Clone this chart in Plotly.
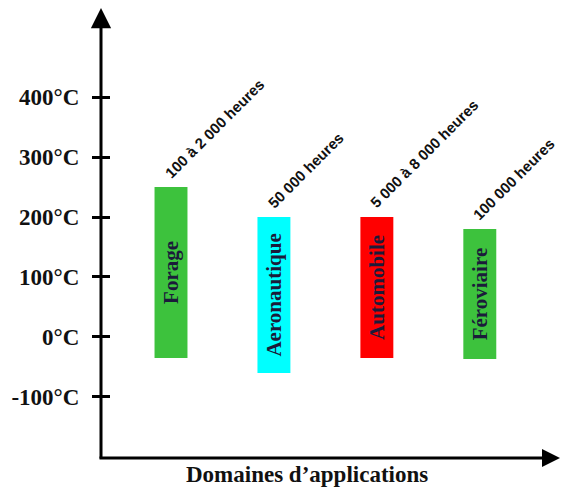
import plotly.graph_objects as go

domains = ["Forage", "Aeronautique", "Automobile", "Féroviaire"]
temp_min = [-35, -60, -35, -37]
temp_max = [250, 200, 200, 180]
durations = ["100 à 2 000 heures", "50 000 heures", "5 000 à 8 000 heures", "100 000 heures"]
colors = ["#3DC23D", "#00FFFF", "#FF0000", "#3DC23D"]
tick_vals = [-100, 0, 100, 200, 300, 400]
tick_text = ["-100°C", "0°C", "100°C", "200°C", "300°C", "400°C"]

xpos = list(range(len(domains)))
bar_w = 0.32

fig = go.Figure()
fig.add_trace(go.Bar(
    x=xpos,
    y=[hi - lo for lo, hi in zip(temp_min, temp_max)],
    base=temp_min,
    width=bar_w,
    marker=dict(color=colors, line=dict(width=0)),
    text=domains,
    textposition="inside",
    insidetextanchor="middle",
    textangle=-90,
    constraintext="none",
    insidetextfont=dict(family="Liberation Serif, Times New Roman, serif", size=21,
                        color="#1b1b3a", weight="bold"),
    showlegend=False,
    hoverinfo="skip",
))
fig.add_trace(go.Scatter(x=[0], y=[0], yaxis="y2", mode="markers",
                         marker=dict(opacity=0), showlegend=False, hoverinfo="skip"))

for i, (d, hi) in enumerate(zip(durations, temp_max)):
    fig.add_annotation(
        x=xpos[i] - bar_w / 2, y=hi, xref="x", yref="y",
        text=d, showarrow=False, textangle=-45,
        xanchor="left", yanchor="bottom", xshift=4, yshift=3,
        font=dict(family="Liberation Sans, Arial, sans-serif", size=15, color="#111111", weight="bold"),
    )

# axis lines with arrowheads
fig.add_annotation(x=0, y=1.009, xref="paper", yref="paper", ax=0, ay=452, axref="pixel", ayref="pixel",
                   showarrow=True, arrowhead=2, arrowsize=1.35, arrowwidth=3, arrowcolor="black", text="")
fig.add_annotation(x=1.0066, y=0, xref="paper", yref="paper", ax=-462, ay=0, axref="pixel", ayref="pixel",
                   showarrow=True, arrowhead=2, arrowsize=1.2, arrowwidth=3, arrowcolor="black", text="")

fig.add_annotation(x=0.452, y=-0.038, xref="paper", yref="paper", text="Domaines d’applications",
                   showarrow=False, xanchor="center", yanchor="middle",
                   font=dict(family="Liberation Serif, Times New Roman, serif", size=23,
                             color="#111111", weight="bold"))

fig.update_layout(
    width=561, height=491,
    margin=dict(l=101, r=4, t=12, b=33, autoexpand=False),
    paper_bgcolor="white", plot_bgcolor="white",
    xaxis=dict(range=[-0.68, 3.75], showticklabels=False, ticks="", showgrid=False,
               zeroline=False, showline=False, fixedrange=True, automargin=False),
    yaxis=dict(range=[-202, 542], tickvals=tick_vals, ticktext=tick_text, ticks="outside",
               ticklen=8, tickwidth=3, tickcolor="black", ticklabelstandoff=8, automargin=False,
               showgrid=False, zeroline=False, showline=False,
               tickfont=dict(family="Liberation Serif, Times New Roman, serif", size=23,
                             color="#111111", weight="bold")),
    yaxis2=dict(range=[-202, 542], overlaying="y", side="left", anchor="x", tickvals=tick_vals,
                ticks="inside", ticklen=9, tickwidth=3, tickcolor="black", showticklabels=False,
                showgrid=False, zeroline=False, showline=False, automargin=False),
)

fig.write_html("out.html", config={"displayModeBar": False},
               post_script="document.body.style.margin='0';document.body.style.overflow='hidden';")
